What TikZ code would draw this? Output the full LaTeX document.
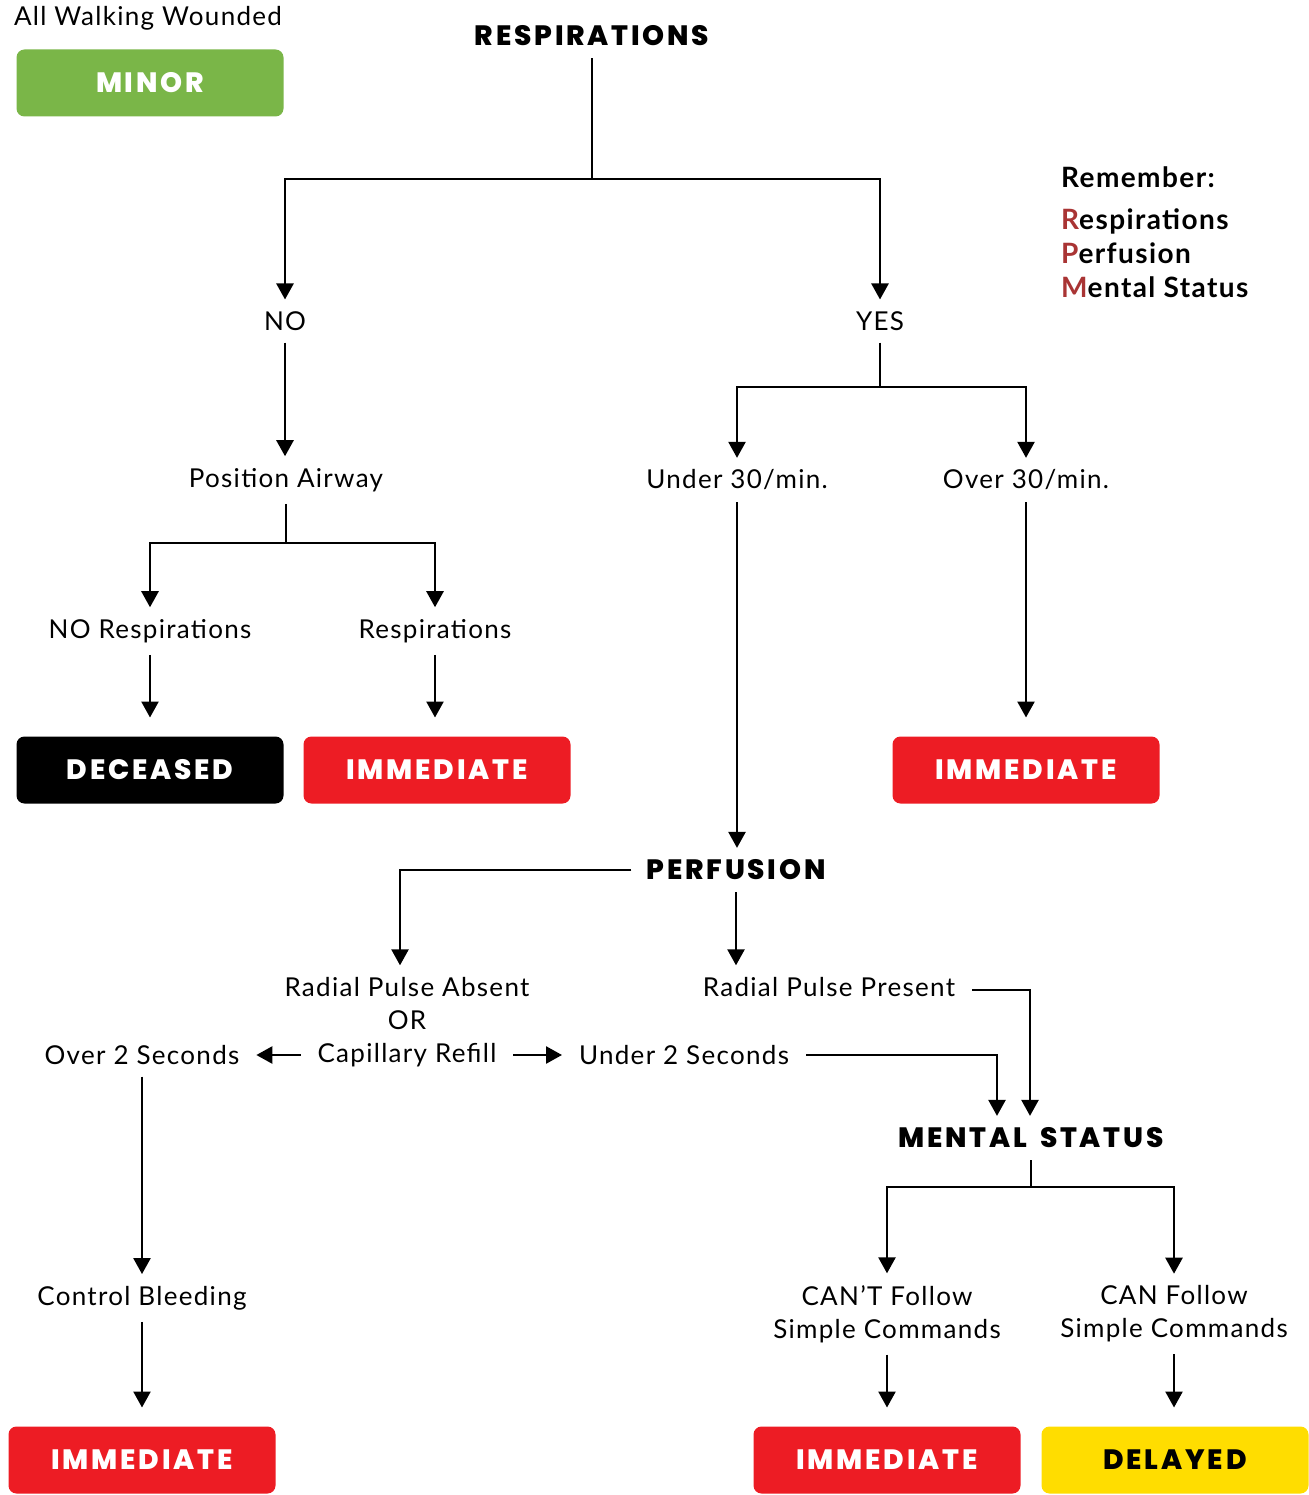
\documentclass[tikz,border=0pt]{standalone}
\usepackage{fontspec}
\setmainfont{Lato}[LetterSpace=5]
\newfontfamily\headfont{Poppins}[LetterSpace=10, BoldFont={Poppins ExtraBold}, WordSpace=1.6]
\usepackage{xcolor}
\definecolor{triagegreen}{HTML}{7AB648}
\definecolor{triagered}{HTML}{ED1C24}
\definecolor{triageyellow}{HTML}{FFDD00}
\definecolor{rpmred}{HTML}{A93434}
\usetikzlibrary{arrows.meta}

\tikzset{
  txt/.style={font=\fontsize{26}{33}\selectfont, inner sep=0pt, outer xsep=17pt, outer ysep=12pt, align=center},
  head/.style={font=\headfont\bfseries\fontsize{28}{30}\selectfont, inner sep=0pt, outer xsep=15pt, outer ysep=12pt},
  tag/.style={rounded corners=8pt, minimum width=267pt, minimum height=67pt, inner sep=0pt, outer sep=19pt,
    font=\headfont\bfseries\fontsize{28}{30}\selectfont, text=white},
  flow/.style={line width=2.5pt},
  arr/.style={flow, -{Triangle[width=17pt,length=16pt]}},
}

\begin{document}
\begin{tikzpicture}[x=1pt,y=-1pt]
    \useasboundingbox (0,0) rectangle (1308,1495);
    % walking wounded
    \node[txt] (walking) at (148,18) {All Walking Wounded};
    \node[tag, fill=triagegreen] (minor) at (150,83) {MINOR};
    % remember block
    \node[anchor=north west, inner sep=0pt, align=left, font=\bfseries\fontsize{28}{34}\selectfont] (remember) at (1061,166)
      {Remember:\\[8pt]\textcolor{rpmred}{R}espirations\\\textcolor{rpmred}{P}erfusion\\\textcolor{rpmred}{M}ental Status};
    % respirations
    \node[head] (resp) at (592,36) {RESPIRATIONS};
    \node[txt] (no) at (285,321) {NO};
    \node[txt] (yes) at (880,321) {YES};
    \node[txt] (airway) at (286,480) {Position Airway};
    \node[txt] (norespi) at (150,631) {NO Respirations};
    \node[txt] (respi) at (435,631) {Respirations};
    \node[tag, fill=black] (deceased) at (150,770) {DECEASED};
    \node[tag, fill=triagered] (immA) at (437,770) {IMMEDIATE};
    \node[txt] (under30) at (737,480) {Under 30/min.};
    \node[txt] (over30) at (1026,480) {Over 30/min.};
    \node[tag, fill=triagered] (immB) at (1026,770) {IMMEDIATE};
    % perfusion
    \node[head] (perf) at (736,870) {PERFUSION};
    \node[txt] (absent) at (407,987) {Radial Pulse Absent};
    \node[txt] (or) at (407,1020) {OR};
    \node[txt] (refill) at (407,1055) {Capillary Refill};
    \node[txt] (present) at (829,987) {Radial Pulse Present};
    \node[txt] (over2) at (142,1055) {Over 2 Seconds};
    \node[txt] (under2) at (684,1055) {Under 2 Seconds};
    \node[txt] (bleed) at (142,1298) {Control Bleeding};
    \node[tag, fill=triagered] (immC) at (142,1460) {IMMEDIATE};
    % mental status
    \node[head] (mental) at (1031,1138) {MENTAL STATUS};
    \node[txt] (cant) at (887,1314) {CAN'T Follow\\Simple Commands};
    \node[txt] (can) at (1174,1314) {CAN Follow\\Simple Commands};
    \node[tag, fill=triagered] (immD) at (887,1460) {IMMEDIATE};
    \node[tag, fill=triageyellow, text=black] (delayed) at (1175,1460) {DELAYED};
    % forks
    \coordinate (respfork) at (592,179);
    \coordinate (airfork) at (286,543);
    \coordinate (yesfork) at (880,387);
    \coordinate (mentalfork) at (1031,1187);
    % connectors
    \draw[flow] (resp) -- (respfork);
    \draw[arr] (respfork) -| (no);
    \draw[arr] (respfork) -| (yes);
    \draw[arr] (no.south) -- (no.south |- airway.north);
    \draw[flow] (airway) -- (airfork);
    \draw[arr] (airfork) -| (norespi);
    \draw[arr] (airfork) -| (respi);
    \draw[arr] (norespi) -- (norespi |- deceased.north);
    \draw[arr] (respi) -- (respi |- immA.north);
    \draw[flow] (yes) -- (yesfork);
    \draw[arr] (yesfork) -| (under30);
    \draw[arr] (yesfork) -| (over30);
    \draw[arr] (under30) -- (under30 |- perf.north);
    \draw[arr] (over30) -- (immB);
    \draw[arr] (perf.west) -| ([xshift=-7pt]absent.north);
    \draw[arr] (perf.south) -- (perf.south |- present.north);
    \draw[arr] (refill.west) -- (over2.east);
    \draw[arr] (refill.east) -- (under2.west);
    \draw[arr] ([yshift=-3pt]present.east) -| ([xshift=-1pt]mental.north);
    \draw[arr] (under2.east) -| ([xshift=-34pt]mental.north);
    \draw[arr] (over2) -- (bleed);
    \draw[arr] (bleed) -- (immC);
    \draw[flow] (mental) -- (mentalfork);
    \draw[arr] (mentalfork) -| (cant);
    \draw[arr] (mentalfork) -| (can);
    \draw[arr] (cant) -- (immD);
    \draw[arr] (can) -- (can |- delayed.north);
\end{tikzpicture}
\end{document}
